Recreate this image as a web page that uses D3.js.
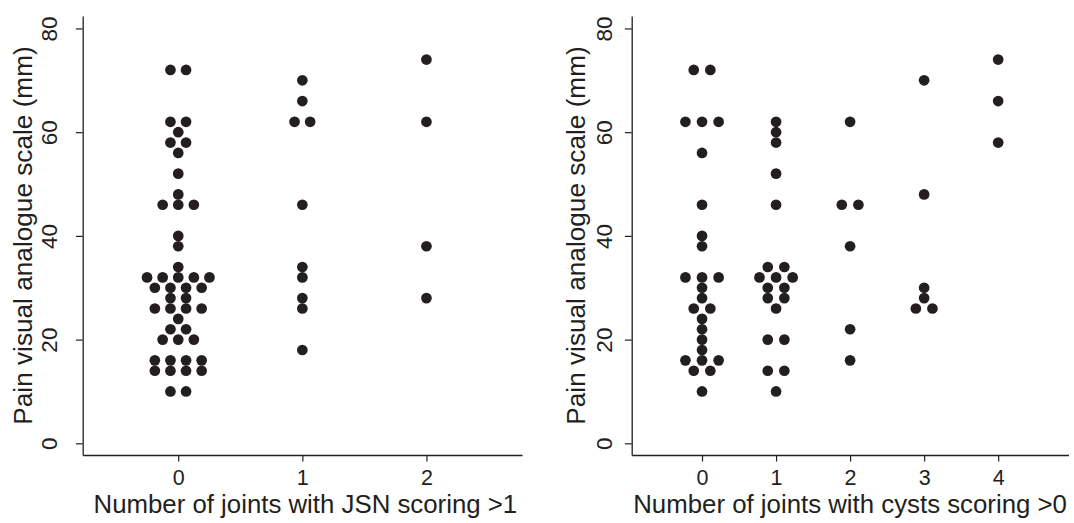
<!DOCTYPE html>
<html>
<head>
<meta charset="utf-8">
<script src="https://cdn.jsdelivr.net/npm/d3@7"></script>
<style>
  html, body { margin: 0; padding: 0; background: #fff; }
  svg { display: block; }
  text { font-family: "Liberation Sans", Arial, Helvetica, sans-serif; fill: #231f20; }
</style>
</head>
<body>
<svg id="chart" width="1074" height="523"></svg>
<script>
// ---------------- data ----------------
const yTicks = [0, 20, 40, 60, 80];
const yTitle = "Pain visual analogue scale (mm)";

// Left panel: number of joints with JSN scoring >1
const jsnCategories = [0, 1, 2];
const jsnTitle = "Number of joints with JSN scoring >1";
const jsnGroup0 = [72, 72, 62, 62, 60, 58, 58, 56, 52, 48, 46, 46, 46, 40, 38, 34,
  32, 32, 32, 32, 32, 30, 30, 30, 30, 28, 28, 26, 26, 26, 26, 24, 22, 22,
  20, 20, 20, 16, 16, 16, 16, 14, 14, 14, 14, 10, 10];
const jsnGroup1 = [70, 66, 62, 62, 46, 34, 32, 28, 26, 18];
const jsnGroup2 = [74, 62, 38, 28];

// Right panel: number of joints with cysts scoring >0
const cystCategories = [0, 1, 2, 3, 4];
const cystTitle = "Number of joints with cysts scoring >0";
const cystGroup0 = [72, 72, 62, 62, 62, 56, 46, 40, 38, 32, 32, 32, 30, 28, 26, 26,
  24, 22, 20, 18, 16, 16, 16, 14, 14, 10];
const cystGroup1 = [62, 60, 58, 52, 46, 34, 34, 32, 32, 32, 30, 30, 28, 28, 26,
  20, 20, 14, 14, 10];
const cystGroup2 = [62, 46, 46, 38, 22, 16];
const cystGroup3 = [70, 48, 30, 28, 26, 26];
const cystGroup4 = [74, 66, 58];

// ---------------- drawing ----------------
const INK = "#231f20";
const svg = d3.select("#chart");

function panel(cfg) {
  const g = svg.append("g");
  const x = d3.scaleLinear().domain(cfg.xDomain).range(cfg.xRange);
  const y = d3.scaleLinear().domain([-2.25, 82.4]).range([455, 16]);

  // y axis
  const ya = g.append("g")
    .attr("transform", `translate(${cfg.xRange[0]},0)`)
    .call(d3.axisLeft(y).tickValues(yTicks).tickSize(6.8).tickSizeOuter(0).tickFormat(d3.format("d")));
  ya.select(".domain").attr("stroke", INK).attr("stroke-width", 1.3);
  ya.selectAll(".tick line").attr("stroke", INK).attr("stroke-width", 1.2);
  ya.selectAll(".tick text")
    .attr("x", null).attr("dy", null)
    .attr("text-anchor", "middle")
    .attr("transform", `translate(${-cfg.yLabelOff},0) rotate(-90)`)
    .style("font-size", "22.5px")
    .attr("fill", INK);

  // x axis
  const xa = g.append("g")
    .attr("transform", "translate(0,455)")
    .call(d3.axisBottom(x).tickValues(cfg.categories).tickSize(6.5).tickSizeOuter(0).tickFormat(d3.format("d")));
  xa.select(".domain").attr("stroke", INK).attr("stroke-width", 1.3);
  xa.selectAll(".tick line").attr("stroke", INK).attr("stroke-width", 1.2);
  xa.selectAll(".tick text")
    .attr("y", 29.5).attr("dy", null)
    .style("font-size", "21.5px")
    .attr("fill", INK);

  // titles
  const xMid = (cfg.xRange[0] + cfg.xRange[1]) / 2;
  g.append("text")
    .attr("x", xMid + cfg.xTitleShift).attr("y", 512.5)
    .attr("text-anchor", "middle")
    .style("font-size", "25.8px")
    .text(cfg.xTitle);
  g.append("text")
    .attr("transform", `translate(${cfg.xRange[0] - cfg.yTitleOff},${(16 + 455) / 2}) rotate(-90)`)
    .attr("text-anchor", "middle")
    .style("font-size", "26.2px")
    .text(yTitle);

  // dots: stacked side by side for equal values (dot plot)
  const pts = [];
  cfg.groups.forEach((vals, gi) => {
    const counts = d3.rollup(vals, v => v.length, v => v);
    const seen = new Map();
    vals.forEach(v => {
      const n = counts.get(v);
      const i = seen.get(v) || 0;
      seen.set(v, i + 1);
      pts.push({ cat: cfg.categories[gi], v, off: i - (n - 1) / 2 });
    });
  });
  g.append("g").selectAll("circle").data(pts).join("circle")
    .attr("cx", d => x(d.cat) + d.off * cfg.dotStep)
    .attr("cy", d => y(d.v))
    .attr("r", 5.35)
    .attr("fill", INK);
}

panel({
  categories: jsnCategories,
  groups: [jsnGroup0, jsnGroup1, jsnGroup2],
  xDomain: [-0.77, 2.77],
  xRange: [82.7, 522],
  xTitle: jsnTitle,
  xTitleShift: 3,
  yLabelOff: 26,
  yTitleOff: 51,
  dotStep: 15.6
});

panel({
  categories: cystCategories,
  groups: [cystGroup0, cystGroup1, cystGroup2, cystGroup3, cystGroup4],
  xDomain: [-0.95, 4.95],
  xRange: [631.7, 1068.5],
  xTitle: cystTitle,
  xTitleShift: 0,
  yLabelOff: 20,
  yTitleOff: 47,
  dotStep: 16.6
});
</script>
</body>
</html>
